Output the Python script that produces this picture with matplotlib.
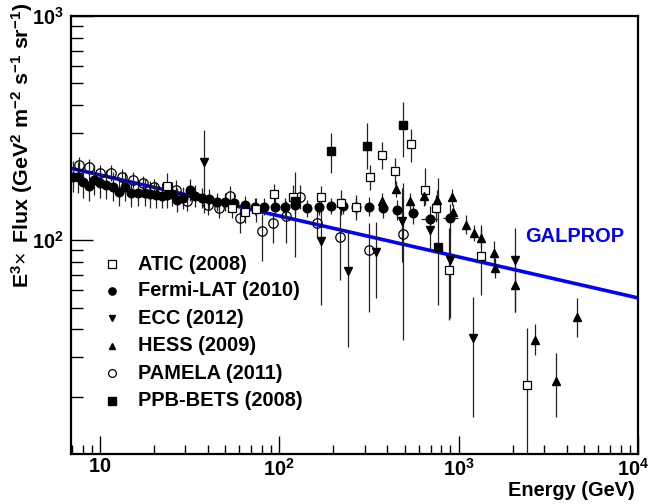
import numpy as np
import matplotlib
matplotlib.use("Agg")
import matplotlib.pyplot as plt
import matplotlib.transforms as mtransforms
from matplotlib.ticker import FixedLocator, FixedFormatter, NullFormatter

plt.rcParams['font.family'] = ['Liberation Sans', 'DejaVu Sans']
plt.rcParams['mathtext.fontset'] = 'custom'
plt.rcParams['mathtext.rm'] = 'Liberation Sans'
plt.rcParams['mathtext.bf'] = 'Liberation Sans:bold'
plt.rcParams['mathtext.it'] = 'Liberation Sans:italic'

# ---- data: E (GeV), E^3 x flux, and error-bar bounds ----
fermi_E = [7.10, 7.56, 8.07, 8.68, 9.29, 10.0, 10.8, 11.8, 12.8, 13.8, 15.0, 16.4, 17.8, 19.0,
           20.5, 22.1, 23.6, 25.2, 27.0, 29.2, 31.6, 34.0, 37.0, 40.8, 45.2, 50.1, 56.1, 64.0,
           73.0, 82.4, 94.1, 108, 123, 143, 166, 194, 227, 269, 317, 380, 455, 557, 692, 891]
fermi_F = [192, 190.5, 181, 174, 185, 179, 177, 173, 164, 173, 162, 163, 163, 160,
           159, 158, 159, 160, 151, 154, 168, 157, 154, 152, 148, 148, 147, 143,
           141, 141, 141, 141, 143, 138.5, 141, 142, 142, 141, 141, 138.5, 136, 132, 124.5, 125]
fermi_rel = [0.17, 0.17, 0.17, 0.17, 0.17, 0.16, 0.16, 0.16, 0.16, 0.16, 0.15, 0.15, 0.15, 0.15,
             0.14, 0.14, 0.14, 0.13, 0.13, 0.12, 0.12, 0.12, 0.11, 0.11, 0.10, 0.10, 0.10, 0.10,
             0.09, 0.09, 0.09, 0.09, 0.09, 0.09, 0.09, 0.09, 0.09, 0.09, 0.10, 0.10, 0.11, 0.12,
             0.14, 0.16]
fermi_bin_lo = [526, 614, 815]   # energy bin edges of the last three points
fermi_bin_hi = [590, 764, 987]

pam_E = [7.66, 8.71, 10.0, 11.5, 13.2, 15.2, 17.4, 20.1, 26.7, 30.5, 39.9,
         45.9, 52.8, 60.6, 80.0, 92.2, 108.6, 130, 162, 219, 315, 492]
pam_F = [216, 212, 198.5, 198.5, 191, 185, 179, 172, 167, 149, 144,
         139, 157, 125, 110, 119, 128, 156, 119, 103.4, 90.2, 106]
pam_lo = [199, 195, 182.8, 182.8, 176, 170, 165, 158, 150.7, 134.5, 130,
          125.5, 141.7, 108, 80.8, 97, 97, 138, 102.5, 66.5, 47.7, 36]
pam_hi = [234.6, 230, 215.6, 215.6, 207, 201, 194, 187, 185, 165, 159.6,
          154, 174, 138.5, 131, 132, 150, 176.4, 138, 136.5, 119, 179]

atic_E = [23.6, 54.4, 64.6, 73.9, 94.0, 119, 171, 221, 269, 322, 374, 443, 544, 646, 749, 887, 1333, 2400]
atic_F = [175, 138.5, 133.8, 137, 160, 156, 155.6, 147, 141, 191, 240, 204, 269, 167, 139.4, 73.5, 85.3, 22.5]
atic_lo = [151, 125.4, 119, 120.3, 143, 139, 137.5, 129.3, 122.8, 167, 207.5, 176, 223, 143, 120.3, 44, 56.8, 10.4]
atic_hi = [199, 154, 151, 154, 178, 176, 174, 167, 159, 216, 275, 232, 313, 210, 159, 113, 116.7, 40.5]

ecc_E = [38.1, 171, 242, 345, 485, 691, 891, 1209, 2063]
ecc_F = [222, 99.3, 72.9, 88.9, 121.6, 111.4, 81.8, 36.4, 81.4]
ecc_lo = [132, 51.3, 33.3, 55.1, 80, 91.5, 44.9, 16.3, 47.9]
ecc_hi = [310, 136, 110.8, 120.7, 170, 125, 110.8, 55.8, 113]

hess_E = [371.5, 448, 537, 640, 758, 918, 931, 1104, 1211, 1327, 1580, 1600, 2063, 2668, 3480, 4560]
hess_F = [149.3, 169, 150, 157, 151.3, 156, 133.4, 117.3, 107.8, 102.6, 87.2, 74.8, 63, 36, 23.5, 45.5]
hess_lo = [137.5, 155.6, 138, 141.7, 136.5, 143.6, 122.8, 106, 99.3, 92.6, 77.1, 67.5, 47.9, 30.7, 16.2, 36.9]
hess_hi = [162, 183.5, 163, 174, 167.6, 169.4, 145, 129.7, 117, 113.7, 98.6, 82.9, 81.4, 42.2, 31.3, 55.1]

ppb_E = [123, 193.5, 307.5, 488.7, 765.6]
ppb_F = [149.4, 249.6, 262.8, 326, 92.7]
ppb_lo = [84, 199, 207.6, 234, 51.3]
ppb_hi = [201, 300, 333, 414, 189]

galprop_E = [6.9, 10000]
galprop_F = [209, 55.2]

labels = ["ATIC (2008)", "Fermi-LAT (2010)", "ECC (2012)", "HESS (2009)",
          "PAMELA (2011)", "PPB-BETS (2008)"]

# ---- figure ----
fig = plt.figure(figsize=(6.52, 5.04), dpi=100)
ax = fig.add_axes([71 / 652, 1 - 454 / 504, 567 / 652, 438 / 504])
ax.set_xscale('log')
ax.set_yscale('log')
ax.set_xlim(6.9, 10000)
ax.set_ylim(11.1, 1000)

ax.plot(galprop_E, galprop_F, color='#0000ff', lw=2.6, zorder=2, solid_capstyle='butt')

def yerr(F, lo, hi):
    F, lo, hi = map(np.asarray, (F, lo, hi))
    return [F - lo, hi - F]

ekw = dict(ls='none', ecolor='#222222', elinewidth=0.9, capsize=0, zorder=3)

fF = np.asarray(fermi_F)
fr = np.asarray(fermi_rel)
ax.errorbar(fermi_E, fermi_F, yerr=[fF - fF / (1 + fr), fF * fr], marker='o', ms=6.2,
            mfc='black', mec='black', **ekw)
fe = np.asarray(fermi_E[-3:])
ax.errorbar(fe, fermi_F[-3:], xerr=[fe - np.asarray(fermi_bin_lo), np.asarray(fermi_bin_hi) - fe],
            marker='none', **ekw)

ax.errorbar(pam_E, pam_F, yerr=yerr(pam_F, pam_lo, pam_hi), marker='o', ms=6.8,
            mfc='none', mec='black', mew=0.9, **ekw)
ax.errorbar(atic_E, atic_F, yerr=yerr(atic_F, atic_lo, atic_hi), marker='s', ms=6.4,
            mfc='white', mec='black', mew=0.9, **ekw)
ax.errorbar(ecc_E, ecc_F, yerr=yerr(ecc_F, ecc_lo, ecc_hi), marker='v', ms=6.0,
            mfc='black', mec='black', **ekw)
ax.errorbar(hess_E, hess_F, yerr=yerr(hess_F, hess_lo, hess_hi), marker='^', ms=6.0,
            mfc='black', mec='black', **ekw)
ax.errorbar(ppb_E, ppb_F, yerr=yerr(ppb_F, ppb_lo, ppb_hi), marker='s', ms=6.2,
            mfc='black', mec='black', **ekw)

ax.text(1.0 * 10 ** 3.37, 100 * 10 ** (3.3 / 224), "GALPROP", color='#0000ff',
        fontsize=14.4, fontweight='bold', ha='left', va='center')

# ---- legend ----
leg_styles = [dict(marker='s', mfc='white', mec='black', mew=0.9, ms=5.2),
              dict(marker='o', mfc='black', mec='black', ms=5.2),
              dict(marker='v', mfc='black', mec='black', ms=5.0),
              dict(marker='^', mfc='black', mec='black', ms=5.0),
              dict(marker='o', mfc='none', mec='black', mew=0.9, ms=5.6),
              dict(marker='s', mfc='black', mec='black', ms=5.2)]
leg_y = [264.3, 290.7, 318.3, 345.7, 373.3, 400.7]
for st, lab, yp in zip(leg_styles, labels, leg_y):
    yy = (454 - yp) / 438
    ax.plot([0.0723], [yy], transform=ax.transAxes, ls='none', clip_on=False, **st)
    ax.text(0.119, yy, lab, transform=ax.transAxes, fontsize=14.4, fontweight='bold',
            ha='left', va='center')

# ---- axes styling ----
for s in ax.spines.values():
    s.set_linewidth(1.6)

ax.xaxis.set_major_locator(FixedLocator([10, 100, 1000, 10000]))
ax.xaxis.set_major_formatter(FixedFormatter([r'$\mathbf{10}$', r'$\mathbf{10^{2}}$',
                                             r'$\mathbf{10^{3}}$', r'$\mathbf{10^{4}}$']))
xminor = [m * 10 ** d for d in range(0, 4) for m in range(2, 10) if 6.9 <= m * 10 ** d <= 10000]
ax.xaxis.set_minor_locator(FixedLocator(xminor))
ax.xaxis.set_minor_formatter(NullFormatter())

ax.yaxis.set_major_locator(FixedLocator([100, 1000]))
ax.yaxis.set_major_formatter(FixedFormatter([r'$\mathbf{10^{2}}$', r'$\mathbf{10^{3}}$']))
yminor = [m * 10 ** d for d in range(1, 3) for m in range(2, 10) if 11.1 <= m * 10 ** d <= 1000]
ax.yaxis.set_minor_locator(FixedLocator(yminor))
ax.yaxis.set_minor_formatter(NullFormatter())

ax.tick_params(which='both', direction='in', top=False, right=False, labelsize=14.4, width=1.0)
ax.tick_params(axis='x', which='major', length=13, pad=2.5)
ax.tick_params(axis='x', which='minor', length=6.5)
ax.tick_params(axis='y', which='major', length=16, pad=5)
ax.tick_params(axis='y', which='minor', length=8.5)

# keep the last decade label inside the canvas
fig.canvas.draw()
last = ax.get_xticklabels()[-1]
last.set_transform(last.get_transform() +
                   mtransforms.ScaledTranslation(-5 / 100, 0, fig.dpi_scale_trans))

fig.text(635 / 652, 1 - 490 / 504, "Energy (GeV)", fontsize=14.4, fontweight='bold',
         ha='right', va='center')
fig.text(22 / 652, 1 - 3 / 504,
         r'$\mathbf{E^{3}}\!\times\mathbf{\ Flux\ (GeV^{2}\ m^{-2}\ s^{-1}\ sr^{-1})}$',
         fontsize=15.4, rotation=90, ha='center', va='top')

fig.savefig("out.png", dpi=100)
